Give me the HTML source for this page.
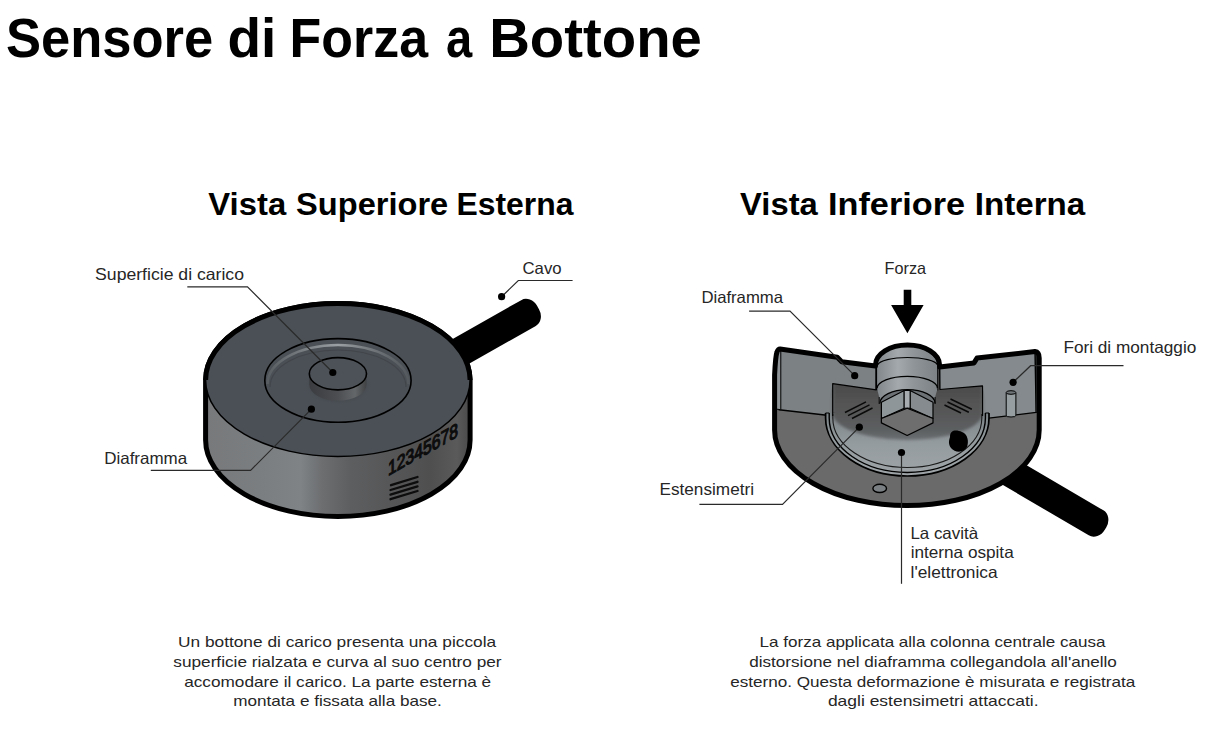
<!DOCTYPE html>
<html><head><meta charset="utf-8">
<style>
html,body{margin:0;padding:0;background:#fff;width:1220px;height:746px;overflow:hidden}
svg{display:block}
.t{font-family:"Liberation Sans",sans-serif;fill:#000;font-weight:bold}
.l{font-family:"Liberation Sans",sans-serif;fill:#262626;font-size:16.5px}
.p{font-family:"Liberation Sans",sans-serif;fill:#262626;font-size:15px}
.ld{fill:none;stroke:#2a2a2a;stroke-width:1.2}
</style></head><body>
<svg width="1220" height="746" viewBox="0 0 1220 746">
<defs>
 <linearGradient id="side1" x1="0" y1="0" x2="1" y2="0">
  <stop offset="0" stop-color="#77797b"/>
  <stop offset="0.2" stop-color="#7b7e80"/>
  <stop offset="0.36" stop-color="#7f8386"/>
  <stop offset="0.44" stop-color="#6c6e70"/>
  <stop offset="0.55" stop-color="#5d5e5f"/>
  <stop offset="0.85" stop-color="#4f4f50"/>
  <stop offset="0.95" stop-color="#5a5a5b"/>
  <stop offset="1" stop-color="#4a4a4b"/>
 </linearGradient>
</defs>
<!-- titles -->
<text class="t" x="5.9" y="56.5" font-size="56" textLength="207.4" lengthAdjust="spacingAndGlyphs">Sensore</text>
<text class="t" x="227.4" y="56.5" font-size="56" textLength="48.8" lengthAdjust="spacingAndGlyphs">di</text>
<text class="t" x="289.6" y="56.5" font-size="56" textLength="138.4" lengthAdjust="spacingAndGlyphs">Forza</text>
<text class="t" x="445.9" y="56.5" font-size="56" textLength="26.2" lengthAdjust="spacingAndGlyphs">a</text>
<text class="t" x="489.2" y="56.5" font-size="56" textLength="212.7" lengthAdjust="spacingAndGlyphs">Bottone</text>
<text class="t" x="208.3" y="215" font-size="30.5" textLength="77.9" lengthAdjust="spacingAndGlyphs">Vista</text>
<text class="t" x="296.1" y="215" font-size="30.5" textLength="152.1" lengthAdjust="spacingAndGlyphs">Superiore</text>
<text class="t" x="456.4" y="215" font-size="30.5" textLength="117.0" lengthAdjust="spacingAndGlyphs">Esterna</text>
<text class="t" x="740.1" y="215" font-size="30.5" textLength="77.7" lengthAdjust="spacingAndGlyphs">Vista</text>
<text class="t" x="828.0" y="215" font-size="30.5" textLength="137.1" lengthAdjust="spacingAndGlyphs">Inferiore</text>
<text class="t" x="974.8" y="215" font-size="30.5" textLength="110.4" lengthAdjust="spacingAndGlyphs">Interna</text>

<!-- LEFT PUCK -->
<g id="puck">
 <!-- cable -->
 <rect x="200" y="518.1" width="116.5" height="29.6" rx="11" ry="13" fill="#000" transform="matrix(0.870 -0.493 0.493 0.870 0 0)"/>
 <!-- body -->
 <path d="M205.6 380 A132.25 76.5 0 0 1 470.1 380 L470.1 440 A132.25 76.5 0 0 1 205.6 440 Z" fill="url(#side1)" stroke="#000" stroke-width="5"/>
 <ellipse cx="337.85" cy="380" rx="132.25" ry="76.5" fill="#4b5056" stroke="#000" stroke-width="1.5"/>
 <path d="M205.6 380 A132.25 76.5 0 0 1 470.1 380" fill="none" stroke="#000" stroke-width="5"/>
 <!-- ring -->
 <defs>
  <linearGradient id="rim" x1="0" y1="0" x2="1" y2="0">
   <stop offset="0" stop-color="#5a5f64" stop-opacity="0.9"/>
   <stop offset="0.5" stop-color="#9aa0a4"/>
   <stop offset="1" stop-color="#5a5f64" stop-opacity="0.6"/>
  </linearGradient>
  <linearGradient id="btnside" x1="0" y1="0" x2="1" y2="0">
   <stop offset="0" stop-color="#3a3c3f"/>
   <stop offset="0.5" stop-color="#4c4e51"/>
   <stop offset="0.8" stop-color="#646769"/>
   <stop offset="1" stop-color="#3f4143"/>
  </linearGradient>
  <radialGradient id="halo" cx="0.5" cy="0.5" r="0.5">
   <stop offset="0.6" stop-color="#35383b" stop-opacity="0.8"/>
   <stop offset="1" stop-color="#4b5056" stop-opacity="0"/>
  </radialGradient>
 </defs>
 <ellipse cx="337.95" cy="380.45" rx="73.15" ry="41.85" fill="none" stroke="#000" stroke-width="1.6"/>
 <path d="M267.5 384 A70.5 39 0 0 1 408.5 384" fill="none" stroke="url(#rim)" stroke-width="2.6"/>
 <path d="M270 387 A68 37 0 0 1 406 387" fill="none" stroke="#3c4045" stroke-width="1.2" opacity="0.6"/>
 <!-- button -->
 <ellipse cx="338" cy="384" rx="34" ry="21" fill="url(#halo)"/>
 <path d="M309.3 373.75 L309.3 384.5 A28.6 16.15 0 0 0 366.5 384.5 L366.5 373.75 Z" fill="url(#btnside)"/>
 <ellipse cx="337.9" cy="373.75" rx="28.6" ry="16.15" fill="#4d5258" stroke="#000" stroke-width="1.6"/>
 <!-- serial -->
 <text x="0" y="0" font-family="Liberation Sans" font-size="20" fill="#0d0d0d" stroke="#0d0d0d" stroke-width="1.2" transform="translate(388 476) skewY(-29.5)" textLength="70" lengthAdjust="spacingAndGlyphs">12345678</text>
 <g stroke="#0d0d0d" stroke-width="2.3" stroke-linecap="round">
  <line x1="391" y1="485.2" x2="417.5" y2="477"/>
  <line x1="390.5" y1="490" x2="417.5" y2="481.8"/>
  <line x1="390.5" y1="494.6" x2="417.5" y2="486.4"/>
  <line x1="390.5" y1="499.2" x2="417.5" y2="491"/>
 </g>
</g>
<!-- left labels -->
<text class="l" x="95.1" y="280" textLength="148.9" lengthAdjust="spacingAndGlyphs">Superficie di carico</text>
<polyline class="ld" points="187.3,286.8 247.5,286.8 332.8,372.5"/>
<circle cx="332.8" cy="372.5" r="3.6" fill="#000"/>
<text class="l" x="104.2" y="464" textLength="83.0" lengthAdjust="spacingAndGlyphs">Diaframma</text>
<polyline class="ld" points="150.8,470.4 250.6,470.4 311.4,409.2"/>
<circle cx="311.4" cy="409.2" r="3.6" fill="#000"/>
<text class="l" x="522.5" y="273.6" textLength="39.1" lengthAdjust="spacingAndGlyphs">Cavo</text>
<polyline class="ld" points="572.6,280.5 518.3,280.5 501.6,296.7"/>
<circle cx="501.6" cy="296.7" r="3.6" fill="#000"/>

<!-- RIGHT SECTION -->
<g id="sect">
 <rect x="1100" y="-118.5" width="121.5" height="29" rx="11" ry="13" fill="#000" transform="matrix(0.862 0.506 -0.506 0.862 0 0)"/>
 <!-- base fill -->
 <path d="M780 349 L837.3 357.3 L841.7 361.7 L875.5 366 L939.6 366 L974 362.9 L977 358.1 L1035 351.5 L1039.2 356 L1039.2 430 A132.3 75.6 0 0 1 774.6 430 L774.6 360 Z" fill="#6a6a6a"/>
 <!-- left section face -->
 <path d="M780 349 L837.3 357.3 L841.7 361.7 L876 366 L876 400 L827 415.3 L779 409.7 Z" fill="#7c8184" stroke="#000" stroke-width="1.4" stroke-linejoin="round"/>
 <path d="M776 352 L780.8 350 L780.8 409.7 L775.5 409" fill="#8d9396" stroke="#000" stroke-width="1"/>
 <!-- right section face -->
 <path d="M939.7 367 L974 362.9 L977 358.1 L1035 351.5 L1036.2 412.4 L986.7 418.4 L940 405 Z" fill="#848a8d" stroke="#000" stroke-width="1.4" stroke-linejoin="round"/>
 <path d="M1036.2 353 L1039 356 L1039 412 L1036.2 412.4 Z" fill="#8d9396" stroke="#000" stroke-width="1"/>
 <!-- cavity wall -->
 <defs>
  <linearGradient id="wall" x1="0" y1="0" x2="0" y2="1">
   <stop offset="0" stop-color="#7d8488"/>
   <stop offset="0.5" stop-color="#959ca0"/>
   <stop offset="1" stop-color="#9ea4a7"/>
  </linearGradient>
  <linearGradient id="dark" x1="0" y1="0" x2="0" y2="1">
   <stop offset="0" stop-color="#444"/>
   <stop offset="0.5" stop-color="#545454"/>
   <stop offset="0.85" stop-color="#5c5e60"/>
   <stop offset="1" stop-color="#6a6e71"/>
  </linearGradient>
  <linearGradient id="col" x1="0" y1="0" x2="1" y2="0">
   <stop offset="0" stop-color="#80868a"/>
   <stop offset="0.35" stop-color="#a3a9ac"/>
   <stop offset="0.6" stop-color="#8f9598"/>
   <stop offset="1" stop-color="#7b8184"/>
  </linearGradient>
 </defs>
 <filter id="blur2" x="-10%" y="-10%" width="120%" height="130%"><feGaussianBlur stdDeviation="1.4"/></filter>
 <clipPath id="cavclip"><path d="M832.7 383.7 L876.3 389.8 L939.7 389.5 L982.5 385.8 L989 413 L989 418 A81.7 58 0 0 1 825.6 418 L825.6 413 Z"/></clipPath>
 <path d="M825.6 413 L825.6 418 A81.7 58 0 0 0 989 418 L989 413 Z" fill="url(#wall)"/>
 <g clip-path="url(#cavclip)">
  <path d="M832.7 370 L982.5 370 L982.5 414.8 A75 27 0 0 1 832.7 411 Z" fill="url(#dark)" filter="url(#blur2)"/>
 </g>
 <path d="M825.6 413 L825.6 418 A81.7 58 0 0 0 989 418 L989 413" fill="none" stroke="#000" stroke-width="1.7"/>
 <path d="M829.2 413 L829.2 418 A78.1 54.5 0 0 0 985.4 418 L985.4 413" fill="none" stroke="#000" stroke-width="1.4"/>
 <path d="M832.8 414 L832.8 418 A74.5 49.5 0 0 0 981.8 418 L981.8 414" fill="none" stroke="#1a1a1a" stroke-width="1.1"/>
 <path d="M825.6 413 L829.2 413 M985.4 413 L989 413" fill="none" stroke="#000" stroke-width="1"/>
 <!-- dark region top/side edges -->
 <path d="M832.7 416 L832.7 383.7 L876.3 389.8 M939.7 389.5 L982.5 385.8 L982.5 416" fill="none" stroke="#000" stroke-width="1.2" stroke-linejoin="round"/>
 <!-- strain gauges -->
 <g fill="none" stroke="#0a0a0a" stroke-width="1.5">
  <path d="M845 412.5 L866 401.8"/>
  <path d="M848 415.7 L869.5 404.9"/>
  <path d="M852 418.5 L872.5 408"/>
  <path d="M950.5 399 L971.8 409.3"/>
  <path d="M947.5 402 L968.8 412.3"/>
  <path d="M944.5 405 L961 413"/>
 </g>
 <!-- column -->
 <path d="M876.5 366 L876.5 389.7 L937.8 389.7 L937.8 366 A30.65 20 0 0 0 876.5 366 Z" fill="url(#col)" stroke="#000" stroke-width="1.2"/>
 <path d="M877.7 364.7 A30 8 0 0 1 937.4 364.7" fill="none" stroke="#000" stroke-width="1.2"/>
 <path d="M879.2 389 L879.2 403 L935.1 403 L935.1 389 Z" fill="#6c7175"/>
 <path d="M877 388.4 A30.3 12 0 0 1 937.6 388.4 L935.1 397 L935.1 403 A27.5 13.5 0 0 0 880 403 L879.2 397 Z" fill="url(#col)" stroke="none"/>
 <path d="M877 388.4 A30.3 12 0 0 1 937.6 388.4" fill="none" stroke="#000" stroke-width="1.3"/>
 <path d="M880 403.2 A27.5 13.5 0 0 1 935 403.2" fill="none" stroke="#000" stroke-width="1.2"/>
 <path d="M879.2 397 L879.2 404 M935.1 397 L935.1 404" fill="none" stroke="#000" stroke-width="1"/>
 <!-- hex nut -->
 <path d="M881.4 402.3 L904.2 390.5 L904.2 408.2 L881.4 418.5 Z" fill="#8f9699" stroke="#000" stroke-width="1.2" stroke-linejoin="round"/>
 <path d="M910.1 390.5 L933 402.3 L933 418.5 L910.1 408.2 Z" fill="#858b8f" stroke="#000" stroke-width="1.2" stroke-linejoin="round"/>
 <path d="M904.2 390.5 L910.1 390.5 L910.1 408.2 L904.2 408.2 Z" fill="#a6acaf" stroke="#000" stroke-width="1"/>
 <path d="M881.4 418.5 L907.2 408.2 L933 418.5 L933 422.9 L907.2 435.5 L881.4 422.9 Z" fill="#6e6e6e" stroke="#000" stroke-width="1.2" stroke-linejoin="round"/>
 <!-- blob -->
 <path d="M950 437 C950 429 957 430 962 432 C968 434 969 442 967 447 C964 453 955 453 951 448 C948 444 949 440 950 437 Z" fill="#000"/>
 <!-- small hole -->
 <ellipse cx="879.7" cy="488.4" rx="6.8" ry="4.1" fill="#7a7f83" stroke="#000" stroke-width="1.4"/>
 <!-- mounting hole -->
 <path d="M1006.2 393 L1006.2 415.5 A4.85 1.5 0 0 0 1015.9 415.5 L1015.9 393 Z" fill="#979ea1" stroke="#000" stroke-width="1"/>
 <ellipse cx="1011" cy="392.5" rx="4.85" ry="1.8" fill="#6f7578" stroke="#000" stroke-width="1"/>
 <!-- outline -->
 <path d="M780 349 L837.3 357.3 L841.7 361.7 L875.5 366 L875.5 365 A32 20 0 0 1 939.6 365 L939.6 367 L974 362.9 L977 358.1 L1035 351.5 Q1039.2 352 1039.2 358 L1039.2 430 A132.3 75.6 0 0 1 774.6 430 L774.6 375 Q775.5 356 777 352 Q778 349 780 349 Z" fill="none" stroke="#000" stroke-width="5" stroke-linejoin="round"/>
</g>

<!-- right labels -->
<text class="l" x="884.6" y="273.8" textLength="41.5" lengthAdjust="spacingAndGlyphs">Forza</text>
<polygon points="903.7,289.8 911.3,289.8 911.3,305.1 923.6,305.1 907.4,333.2 891.1,305.1 903.7,305.1" fill="#000"/>
<text class="l" x="701.4" y="302.9" textLength="81.6" lengthAdjust="spacingAndGlyphs">Diaframma</text>
<polyline class="ld" points="749.1,311.2 790,311.2 854.7,375.7"/>
<circle cx="854.7" cy="375.7" r="3.6" fill="#000"/>
<text class="l" x="1063.4" y="352.7" textLength="132.9" lengthAdjust="spacingAndGlyphs">Fori di montaggio</text>
<polyline class="ld" points="1123.5,365.7 1030.6,365.7 1013.1,382.3"/>
<circle cx="1013.1" cy="382.3" r="3.6" fill="#000"/>
<text class="l" x="659.5" y="494.9" textLength="94.5" lengthAdjust="spacingAndGlyphs">Estensimetri</text>
<polyline class="ld" points="699.4,504.3 782.5,504.3 859.3,427.2"/>
<circle cx="859.3" cy="427.2" r="3.6" fill="#000"/>
<polyline class="ld" points="901.5,452.5 901.5,583.8"/>
<circle cx="901.5" cy="452.5" r="3.6" fill="#000"/>
<text class="l" x="910.4" y="538.9" textLength="67.7" lengthAdjust="spacingAndGlyphs">La cavità</text>
<text class="l" x="910.7" y="558.2" textLength="103.0" lengthAdjust="spacingAndGlyphs">interna ospita</text>
<text class="l" x="910.6" y="578.1" textLength="87.0" lengthAdjust="spacingAndGlyphs">l'elettronica</text>

<!-- paragraphs -->
<text class="p" x="178.0" y="646.8" textLength="318.1" lengthAdjust="spacingAndGlyphs">Un bottone di carico presenta una piccola</text>
<text class="p" x="173.3" y="666.7" textLength="328.3" lengthAdjust="spacingAndGlyphs">superficie rialzata e curva al suo centro per</text>
<text class="p" x="184.2" y="686.5" textLength="307.0" lengthAdjust="spacingAndGlyphs">accomodare il carico. La parte esterna è</text>
<text class="p" x="233.2" y="706.1" textLength="208.7" lengthAdjust="spacingAndGlyphs">montata e fissata alla base.</text>

<text class="p" x="759.6" y="646.8" textLength="345.8" lengthAdjust="spacingAndGlyphs">La forza applicata alla colonna centrale causa</text>
<text class="p" x="749.2" y="666.7" textLength="367.7" lengthAdjust="spacingAndGlyphs">distorsione nel diaframma collegandola all'anello</text>
<text class="p" x="730.2" y="686.5" textLength="405.1" lengthAdjust="spacingAndGlyphs">esterno. Questa deformazione è misurata e registrata</text>
<text class="p" x="827.9" y="706.1" textLength="210.6" lengthAdjust="spacingAndGlyphs">dagli estensimetri attaccati.</text>
</svg>
</body></html>
